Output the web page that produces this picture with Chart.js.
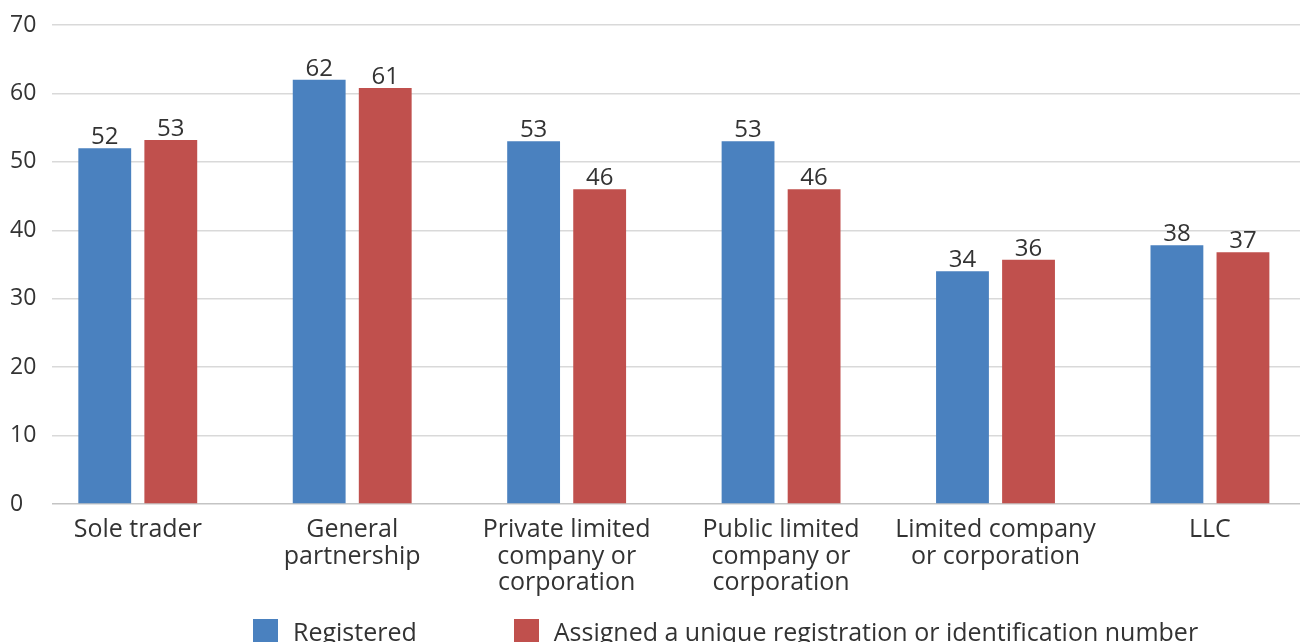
<!DOCTYPE html>
<html>
<head>
<meta charset="utf-8">
<script src="https://cdn.jsdelivr.net/npm/chart.js@4/dist/chart.umd.min.js"></script>
<style>
  html, body { margin: 0; padding: 0; background: #fff; overflow: hidden; }
  #wrap { position: relative; width: 1301px; height: 642px; }
  #legend {
    position: absolute; left: 253px; top: 614px;
    display: flex; align-items: center;
    font-family: "Open Sans", sans-serif; font-size: 25px; color: #333;
    white-space: nowrap;
  }
  #legend .item { display: flex; align-items: center; }
  #legend .box { width: 25px; height: 25px; margin-right: 15px; }
</style>
</head>
<body>
<div id="wrap">
  <canvas id="chart" width="1301" height="642"></canvas>
  <div id="legend"></div>
</div>
<script>
 const categories = [
     ["Sole trader"],
     ["General", "partnership"],
     ["Private limited", "company or", "corporation"],
     ["Public limited", "company or", "corporation"],
     ["Limited company", "or corporation"],
     ["LLC"]
 ];
 const registered = [52, 62, 53, 53, 34, 37.8];
 const assigned = [53.2, 60.8, 46, 46, 35.7, 36.8];
 const seriesNames = ["Registered", "Assigned a unique registration or identification number"];
 const seriesColors = ["#4a81bf", "#c0504d"];
 const yTicks = [0, 10, 20, 30, 40, 50, 60, 70];

 const font = "Open Sans";

 function toPoints(values) {
     return values.map((v, i) => ({ x: i, y: v }));
 }

 // value labels above the bars
 const barLabels = {
     id: 'barLabels',
     afterDatasetsDraw(chart) {
         const ctx = chart.ctx;
         ctx.save();
         ctx.font = `24px "${font}"`;
         ctx.fillStyle = '#333';
         ctx.textAlign = 'center';
         ctx.textBaseline = 'bottom';
         chart.data.datasets.forEach((ds, di) => {
             chart.getDatasetMeta(di).data.forEach((bar, i) => {
                 ctx.fillText(Math.round(ds.data[i].y), bar.x, bar.y + 1);
             });
         });
         ctx.restore();
     }
 };

 new Chart(document.getElementById("chart"), {
     type: 'bar',
     data: {
         datasets: [{
                 label: seriesNames[0],
                 data: toPoints(registered),
                 backgroundColor: seriesColors[0]
             },
             {
                 label: seriesNames[1],
                 data: toPoints(assigned),
                 backgroundColor: seriesColors[1]
             }
         ]
     },
     options: {
         responsive: false,
         animation: false,
         categoryPercentage: 0.616,
         barPercentage: 0.8,
         layout: {
             padding: { top: 25, left: 10, right: 1, bottom: 0 }
         },
         plugins: {
             legend: { display: false },
             tooltip: { enabled: false }
         },
         scales: {
             x: {
                 type: 'linear',
                 offset: false,
                 min: -0.4,
                 max: 5.42,
                 afterBuildTicks: scale => {
                     scale.ticks = categories.map((c, i) => ({ value: i }));
                 },
                 afterFit: scale => { scale.height = 138; },
                 grid: { display: false },
                 border: { display: false },
                 ticks: {
                     autoSkip: false,
                     maxRotation: 0,
                     padding: 5,
                     color: '#333',
                     font: { family: font, size: 25, lineHeight: 1.06 },
                     callback: v => categories[v]
                 }
             },
             y: {
                 min: 0,
                 max: 70,
                 afterBuildTicks: scale => {
                     scale.ticks = yTicks.map(v => ({ value: v }));
                 },
                 afterFit: scale => { scale.width = 42; },
                 border: { display: false },
                 grid: {
                     drawTicks: false,
                     color: c => c.tick && c.tick.value === 0 ? '#c4c4c4' : '#d9d9d9',
                     lineWidth: 1.5
                 },
                 ticks: {
                     crossAlign: 'far',
                     padding: 0,
                     color: '#333',
                     font: { family: font, size: 23 }
                 }
             }
         }
     },
     plugins: [barLabels]
 });

 const legend = document.getElementById("legend");
 seriesNames.forEach((name, i) => {
     const item = document.createElement("div");
     item.className = "item";
     if (i > 0) item.style.marginLeft = "97px";
     item.innerHTML = `<span class="box" style="background:${seriesColors[i]}"></span><span>${name}</span>`;
     legend.appendChild(item);
 });
</script>
</body>
</html>
